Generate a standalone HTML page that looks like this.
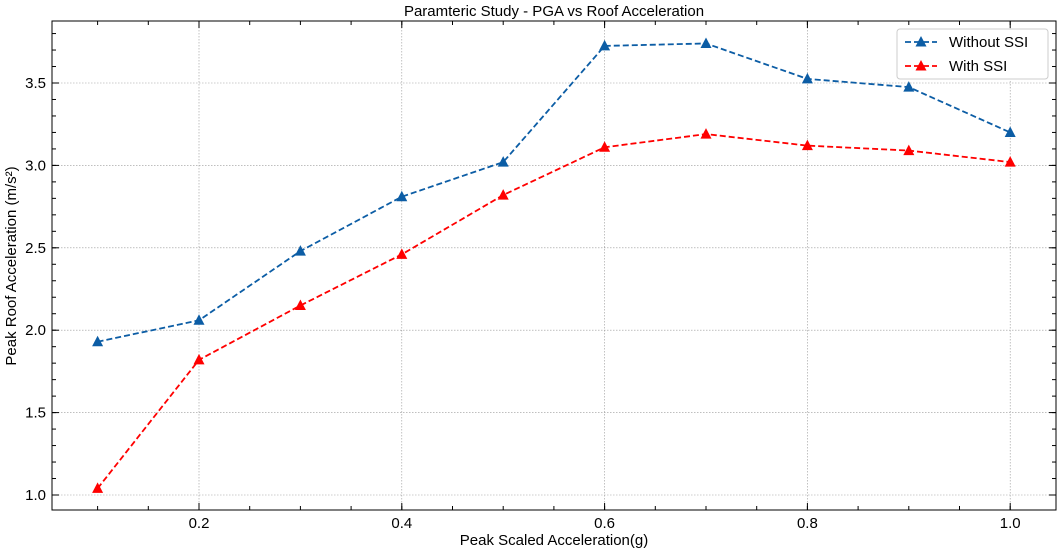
<!DOCTYPE html>
<html><head><meta charset="utf-8"><style>
body{margin:0;background:#fff;}
svg{display:block;font-family:"Liberation Sans","DejaVu Sans",sans-serif;}
</style></head><body>
<svg id="chart" width="1059" height="551"></svg>
<script>
const xCats=[0.1,0.2,0.3,0.4,0.5,0.6,0.7,0.8,0.9,1.0];
const withoutSSI=[1.93,2.06,2.48,2.81,3.02,3.725,3.74,3.525,3.475,3.20];
const withSSI=[1.04,1.82,2.15,2.46,2.82,3.11,3.19,3.12,3.09,3.02];
const xTicks=[0.2,0.4,0.6,0.8,1.0];
const yTicks=[1.0,1.5,2.0,2.5,3.0,3.5];

const L=52,R=1056,T=21,B=510;
const sx=v=>97.6+(v-0.1)*1014;
const sy=v=>495-(v-1)*164.8;
const svg=document.getElementById('chart');
const NS='http://www.w3.org/2000/svg';
function mk(tag,attrs,parent){const e=document.createElementNS(NS,tag);for(const k in attrs)e.setAttribute(k,attrs[k]);(parent||svg).appendChild(e);return e;}

xTicks.forEach(v=>{const g=mk('line',{x1:sx(v),x2:sx(v),y1:T,y2:B,stroke:'#999','stroke-width':0.6,'stroke-dasharray':'1.5,1.5'});

});
yTicks.forEach(v=>{const g=mk('line',{x1:L,x2:R,y1:sy(v),y2:sy(v),stroke:'#999','stroke-width':0.6,'stroke-dasharray':'1.5,1.5'});

});

xTicks.forEach(v=>{const x=sx(v);
mk('line',{x1:x,x2:x,y1:B,y2:B-7,stroke:'#000'});mk('line',{x1:x,x2:x,y1:T,y2:T+7,stroke:'#000'});
const t=mk('text',{x:x,y:B+18,'text-anchor':'middle','font-size':15});t.textContent=v.toFixed(1);

});
yTicks.forEach(v=>{const y=sy(v);
mk('line',{x1:L,x2:L+7,y1:y,y2:y,stroke:'#000'});mk('line',{x1:R,x2:R-7,y1:y,y2:y,stroke:'#000'});
const t=mk('text',{x:L-6,y:y+5,'text-anchor':'end','font-size':15});t.textContent=v.toFixed(1);

});
for(let v=0.05;v<=1.06;v+=0.05){const x=sx(v);if(x<L||x>R)continue;
mk('line',{x1:x,x2:x,y1:B,y2:B-4,stroke:'#000'});mk('line',{x1:x,x2:x,y1:T,y2:T+4,stroke:'#000'});}
for(let v=0.9;v<=3.9;v+=0.1){const y=sy(v);if(y<T||y>B)continue;
mk('line',{x1:L,x2:L+4,y1:y,y2:y,stroke:'#000'});mk('line',{x1:R,x2:R-4,y1:y,y2:y,stroke:'#000'});}

const frame=mk('rect',{x:L,y:T,width:R-L,height:B-T,fill:'none',stroke:'#000','stroke-width':1});



function tri(x,y,c,name){const p=mk('polygon',{points:`${x},${y-6} ${x-5.5},${y+4.5} ${x+5.5},${y+4.5}`,fill:c});

}
function series(vals,c,name){
const pl=mk('polyline',{points:vals.map((v,i)=>sx(xCats[i])+','+sy(v)).join(' '),fill:'none',stroke:c,'stroke-width':1.8,'stroke-dasharray':'6,3'});


vals.forEach((v,i)=>tri(sx(xCats[i]),sy(v),c,name+'-point'));}
series(withoutSSI,'#0c5da5','without-ssi');
series(withSSI,'#ff0000','with-ssi');

const lg=mk('g',{});


mk('rect',{x:897,y:29,width:151,height:50,rx:3,fill:'#fff',stroke:'#ccc'},lg);
[['Without SSI','#0c5da5',42],['With SSI','#ff0000',66]].forEach(([n,c,y])=>{
mk('line',{x1:905,x2:937,y1:y,y2:y,stroke:c,'stroke-width':1.8,'stroke-dasharray':'6,3'},lg);
mk('polygon',{points:`921,${y-6} 915.5,${y+4.5} 926.5,${y+4.5}`,fill:c},lg);
const t=mk('text',{x:949,y:y+5,'font-size':15},lg);t.textContent=n;

});

const title=mk('text',{x:554,y:16,'text-anchor':'middle','font-size':15});title.textContent='Paramteric Study - PGA vs Roof Acceleration';


const xt=mk('text',{x:554,y:545,'text-anchor':'middle','font-size':15});xt.textContent='Peak Scaled Acceleration(g)';


const yt=mk('text',{x:16,y:266,'text-anchor':'middle','font-size':15,transform:'rotate(-90 16 266)'});yt.textContent='Peak Roof Acceleration (m/s²)';


</script>
</body></html>
